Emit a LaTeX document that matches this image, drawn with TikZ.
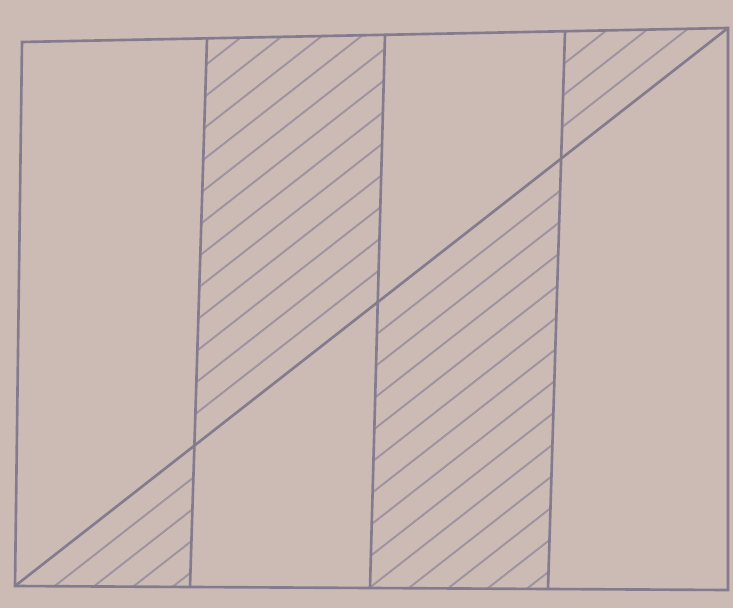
\documentclass[tikz,border=0pt]{standalone}
\usetikzlibrary{calc}
\definecolor{paper}{RGB}{204,187,180}
\definecolor{pencil}{RGB}{132,123,142}
\definecolor{hatchgray}{RGB}{158,147,160}

\begin{document}
\begin{tikzpicture}[x=0.02cm, y=-0.02cm]
	\tikzstyle{border} = [draw=pencil, line width=1.5pt, line cap=round];
	\tikzstyle{hatch} = [draw=hatchgray, line width=1.1pt];
	
	\fill[paper] (0,0) rectangle (733,608);
	\useasboundingbox (0,0) rectangle (733,608);
	
	% corners of the sheet
	\coordinate (tl) at (22,42);
	\coordinate (tr) at (728,28);
	\coordinate (bl) at (15,586);
	\coordinate (br) at (728,590);
	% the three dividers
	\coordinate (top1) at (207,39);
	\coordinate (top2) at (385,35);
	\coordinate (top3) at (565,32);
	\coordinate (bot1) at (190,587);
	\coordinate (bot2) at (370,588);
	\coordinate (bot3) at (548,589);
	
	% strip 1, below the diagonal
	\begin{scope}
		\clip (tl) -- (top1) -- (bot1) -- (bl) -- cycle;
		\clip (bl) -- (tr) -- (br) -- cycle;
		\foreach \k in {1,...,20}
			\draw[hatch] (-100,{676+\k*31}) -- (850,{-67+\k*31});
	\end{scope}
	% strip 2, above the diagonal
	\begin{scope}
		\clip (top1) -- (top2) -- (bot2) -- (bot1) -- cycle;
		\clip (bl) -- (tr) -- (tl) -- cycle;
		\foreach \k in {1,...,20}
			\draw[hatch] (-100,{676-\k*31}) -- (850,{-67-\k*31});
	\end{scope}
	% strip 3, below the diagonal
	\begin{scope}
		\clip (top2) -- (top3) -- (bot3) -- (bot2) -- cycle;
		\clip (bl) -- (tr) -- (br) -- cycle;
		\foreach \k in {1,...,20}
			\draw[hatch] (-100,{676+\k*31}) -- (850,{-67+\k*31});
	\end{scope}
	% strip 4, above the diagonal
	\begin{scope}
		\clip (top3) -- (tr) -- (br) -- (bot3) -- cycle;
		\clip (bl) -- (tr) -- (tl) -- cycle;
		\foreach \k in {1,...,20}
			\draw[hatch] (-100,{676-\k*31}) -- (850,{-67-\k*31});
	\end{scope}
	
	\draw[border] (tl) -- (tr) -- (br) -- (bl) -- cycle;
	\draw[border] (top1) -- (bot1);
	\draw[border] (top2) -- (bot2);
	\draw[border] (top3) -- (bot3);
	\draw[border] (bl) -- (tr);
\end{tikzpicture}
\end{document}
